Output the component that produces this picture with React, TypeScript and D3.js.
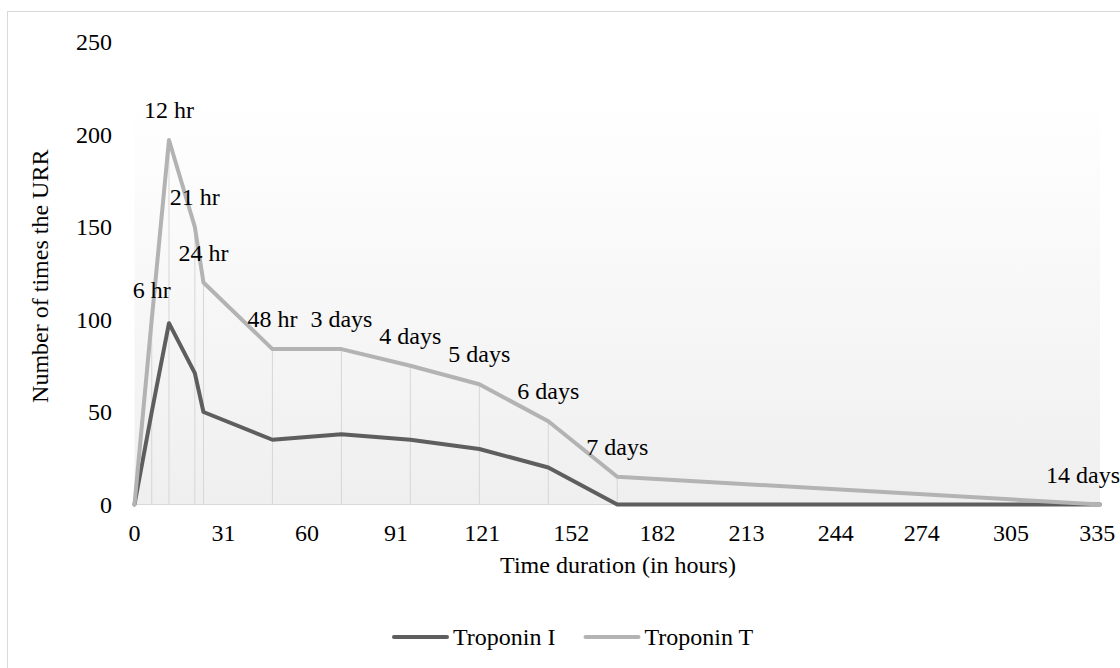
import { useEffect, useRef } from 'react';
import * as d3 from 'd3';

// hours after onset, with the label shown over each Troponin T point
const hours = [0, 6, 12, 21, 24, 48, 72, 96, 120, 144, 168, 336];
const pointLabels = ['', '6 hr', '12 hr', '21 hr', '24 hr', '48 hr', '3 days', '4 days', '5 days', '6 days', '7 days', '14 days'];
const troponinI = [0, 50, 98, 71, 50, 35, 38, 35, 30, 20, 0, 0];
const troponinT = [0, 100, 197, 150, 120, 84, 84, 75, 65, 45, 15, 0];
const xTicks = [0, 31, 60, 91, 121, 152, 182, 213, 244, 274, 305, 335];
const yTicks = [0, 50, 100, 150, 200, 250];

const seriesNames = ['Troponin I', 'Troponin T'];
const seriesColors = ['#5e5e5e', '#b3b3b3'];

const W = 1120;
const H = 668;
const FONT = 'Liberation Serif, Tinos, DejaVu Serif, serif';

export default function App() {
  const svgRef = useRef<SVGSVGElement>(null);

  useEffect(() => {
    if (!svgRef.current) return;
    const svg = d3.select(svgRef.current)
      .attr('font-family', FONT)
      .attr('font-size', 24);
    svg.selectAll('*').remove();

    const x = d3.scaleLinear().domain([0, 336]).range([134.5, 1100]);
    const y = d3.scaleLinear().domain([0, 250]).range([504.5, 42]);

    // chart border
    svg.append('rect')
      .attr('x', 7.5).attr('y', 11.5)
      .attr('width', W).attr('height', H)
      .attr('fill', '#fff')
      .attr('stroke', '#d9d9d9');

    // plot area gradient
    const grad = svg.append('defs').append('linearGradient')
      .attr('id', 'plotBg').attr('x1', 0).attr('y1', 0).attr('x2', 0).attr('y2', 1);
    grad.append('stop').attr('offset', '0%').attr('stop-color', '#ffffff');
    grad.append('stop').attr('offset', '12%').attr('stop-color', '#ffffff');
    grad.append('stop').attr('offset', '100%').attr('stop-color', '#efefef');

    svg.append('rect')
      .attr('x', x(0)).attr('y', y(250))
      .attr('width', x(336) - x(0)).attr('height', y(0) - y(250))
      .attr('fill', 'url(#plotBg)');

    // drop lines
    svg.append('g').selectAll('line')
      .data(hours.map((h, i) => ({ h, v: Math.max(troponinT[i], troponinI[i]) })))
      .join('line')
      .attr('x1', d => x(d.h)).attr('x2', d => x(d.h))
      .attr('y1', d => y(d.v)).attr('y2', y(0))
      .attr('stroke', '#d6d6d6').attr('stroke-width', 1);

    // x axis line
    svg.append('line')
      .attr('x1', x(0)).attr('x2', x(336))
      .attr('y1', y(0)).attr('y2', y(0))
      .attr('stroke', '#d9d9d9').attr('stroke-width', 1);

    const txt = svg.append('g').attr('fill', '#000');

    // tick labels
    txt.append('g').selectAll('text')
      .data(xTicks)
      .join('text')
      .attr('x', d => x(d)).attr('y', 541)
      .attr('text-anchor', 'middle')
      .text(d => d);

    txt.append('g').selectAll('text')
      .data(yTicks)
      .join('text')
      .attr('x', 112).attr('y', d => y(d) + 8)
      .attr('text-anchor', 'end')
      .text(d => d);

    // axis titles
    txt.append('text')
      .attr('x', 618).attr('y', 573)
      .attr('text-anchor', 'middle')
      .text('Time duration (in hours)');

    txt.append('text')
      .attr('transform', `translate(48,${(y(0) + y(250)) / 2 + 3}) rotate(-90)`)
      .attr('text-anchor', 'middle')
      .text('Number of times the URR');

    // lines
    const line = d3.line<number>()
      .x((_, i) => x(hours[i]))
      .y(d => y(d));

    [troponinI, troponinT].forEach((vals, k) => {
      svg.append('path')
        .datum(vals)
        .attr('fill', 'none')
        .attr('stroke', seriesColors[k])
        .attr('stroke-width', 4)
        .attr('stroke-linejoin', 'round')
        .attr('stroke-linecap', 'round')
        .attr('d', line);
    });

    // point labels above Troponin T, kept inside the canvas
    const labels = svg.append('g').attr('fill', '#000').selectAll('text')
      .data(hours.map((h, i) => ({ h, v: troponinT[i], t: pointLabels[i] })).filter(d => d.t))
      .join('text')
      .attr('y', d => y(d.v) - 22)
      .attr('text-anchor', 'middle')
      .text(d => d.t);
    labels.each(function (d) {
      const w = (this as SVGTextElement).getComputedTextLength();
      const cx = Math.min(x(d.h), W - w / 2);
      d3.select(this).attr('x', cx);
    });

    // legend
    const lg = svg.append('g').attr('transform', 'translate(394,637)');
    let off = 0;
    seriesNames.forEach((name, k) => {
      lg.append('line')
        .attr('x1', off).attr('x2', off + 53)
        .attr('y1', 0).attr('y2', 0)
        .attr('stroke', seriesColors[k]).attr('stroke-width', 4)
        .attr('stroke-linecap', 'round');
      const t = lg.append('text')
        .attr('x', off + 59).attr('y', 8)
        .attr('fill', '#000')
        .text(name);
      const w = (t.node() as SVGTextElement).getComputedTextLength();
      off += 59 + w + 30;
    });
  }, []);

  return (
    <svg
      ref={svgRef}
      width={W}
      height={H}
      style={{ position: 'absolute', left: 0, top: 0 }}
    />
  );
}
